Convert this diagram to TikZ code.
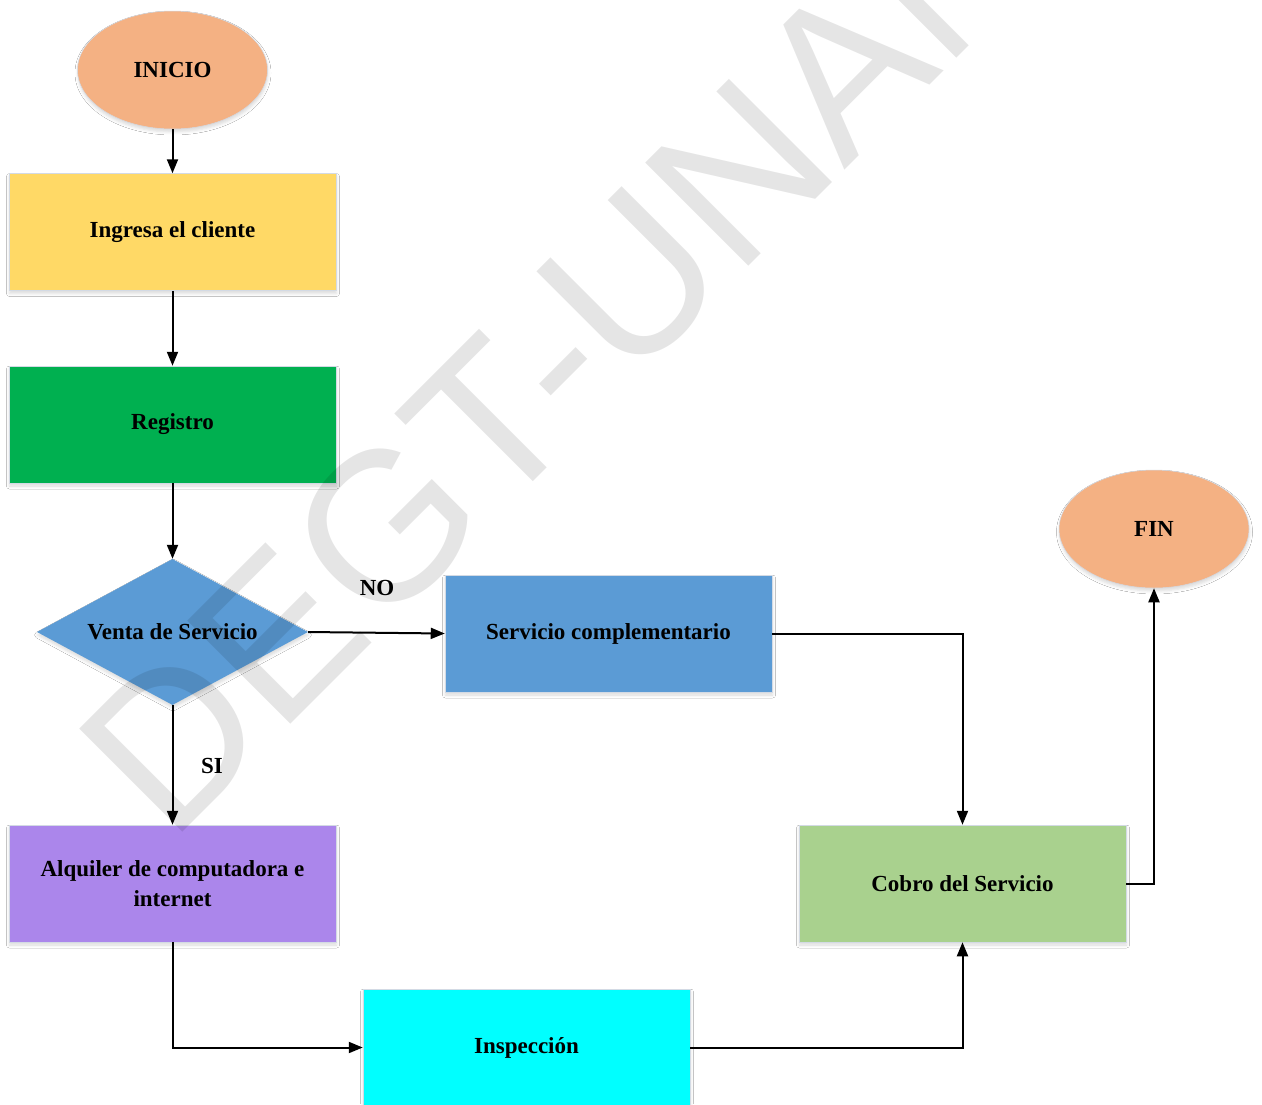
\documentclass[tikz,border=0pt]{standalone}
\usepackage{fontspec}
\setmainfont{Liberation Serif}
\newfontfamily\wmfont{Liberation Sans}
\usetikzlibrary{arrows.meta,shapes.geometric,shadows.blur}
\definecolor{ellc}{HTML}{F4B183}
\definecolor{yelc}{HTML}{FFD966}
\definecolor{grnc}{HTML}{00B050}
\definecolor{bluc}{HTML}{5B9BD5}
\definecolor{purc}{HTML}{AB86EB}
\definecolor{cyac}{HTML}{00FFFF}
\definecolor{lgrc}{HTML}{A9D18E}
\definecolor{edgec}{HTML}{D3DAE4}
\tikzset{
  txt/.style={font=\bfseries\fontsize{23pt}{30pt}\selectfont, text=black},
  shd/.style={blur shadow={shadow xshift=0.5pt, shadow yshift=-3pt, shadow blur radius=3pt, shadow opacity=14}},
  term/.style={txt, shd, ellipse, minimum width=190, minimum height=118, inner sep=0pt, draw=edgec, line width=0.5pt},
  pbox/.style={txt, shd, rectangle, minimum width=327, minimum height=117, inner sep=0pt, draw=edgec, line width=0.5pt, align=center},
  dec/.style={txt, shd, diamond, aspect=1.86, minimum width=271, minimum height=146, inner sep=0pt},
  lbl/.style={txt},
  arr/.style={line width=2pt, -{Triangle[length=14pt,width=11pt]}},
  wm/.style={font=\wmfont\fontsize{212pt}{212pt}\selectfont, text=black, text opacity=0.1, inner sep=0pt}
}
\begin{document}
\begin{tikzpicture}[x=1pt,y=-1pt]
\useasboundingbox[fill=white] (0,0) rectangle (1262,1104);
\node[term, fill=ellc] (inicio) at (172.5,70) {INICIO};
\node[pbox, fill=yelc] (ing) at (172.5,232) {Ingresa el cliente};
\node[pbox, fill=grnc] (reg) at (172.5,424.5) {Registro};
\node[dec, fill=bluc] (dia) at (172.5,632) {Venta de Servicio};
\node[pbox, fill=bluc] (comp) at (608.5,633.5) {Servicio complementario};
\node[pbox, fill=purc] (alq) at (172.5,883.5) {Alquiler de computadora e\\internet};
\node[pbox, fill=cyac] (insp) at (526.5,1047.5) {Inspección};
\node[pbox, fill=lgrc] (cobro) at (962.5,883.5) {Cobro del Servicio};
\node[term, fill=ellc] (fin) at (1154,529) {FIN};
\node[lbl] (no) at (377,588) {NO};
\node[lbl] (si) at (212,766) {SI};

\draw[arr] (inicio) -- (ing);
\draw[arr] (ing) -- (reg);
\draw[arr] (reg) -- (dia);
\draw[arr] (dia.east) -- (comp.west);
\draw[arr] (dia) -- (alq);
\draw[arr] (comp.east) -| (cobro.north);
\draw[arr] (alq.south) |- (insp.west);
\draw[arr] (insp.east) -| (cobro.south);
\draw[arr] (cobro.east) -| (fin.south);

\node[wm, rotate=45, anchor=base west] (mark) at (170,845) {DEGT-UNAN};
\end{tikzpicture}
\end{document}
